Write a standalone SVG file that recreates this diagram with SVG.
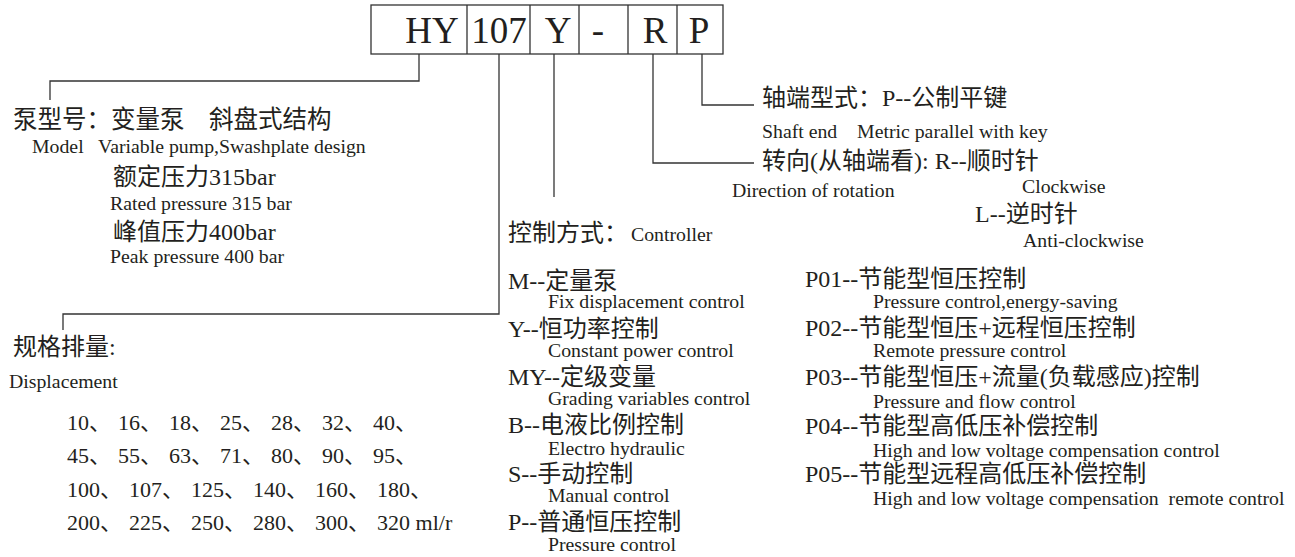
<svg xmlns="http://www.w3.org/2000/svg" width="1295" height="557" viewBox="0 0 1295 557">
<style>
text{font-family:"Liberation Serif","Noto Sans CJK SC",serif;fill:#231f20;white-space:pre}
.big{font-size:37px;text-anchor:middle}
.lb{font-size:24px}
.en{font-size:19.8px}
.num{font-size:22px}
.d{letter-spacing:7px}
.box{fill:#fff;stroke:#333;stroke-width:1.3}
.ln{fill:none;stroke:#333;stroke-width:1.3}
</style>
<rect width="1295" height="557" fill="#fff"/>
<g id="code">
<rect class="box" x="371" y="5" width="352" height="49"/>
<path class="ln" d="M467,5V54M530,5V54M579,5V54M628,5V54M677,5V54"/>
<text class="big" x="432" y="43">HY</text>
<text class="big" x="499" y="43">107</text>
<text class="big" x="558" y="43">Y</text>
<text class="big" x="598" y="43">-</text>
<text class="big" x="655" y="43">R</text>
<text class="big" x="699" y="43">P</text>
</g>
<g id="connectors">
<path class="ln" d="M419,54V81H50V100"/>
<path class="ln" d="M499,54V314H63V330"/>
<path class="ln" d="M554,54V197"/>
<path class="ln" d="M653,54V163H754"/>
<path class="ln" d="M702,54V105H754"/>
</g>
<g id="model">
<text class="lb" x="13" y="128" style="font-size:24.5px">泵型号：变量泵　斜盘式结构</text>
<text class="en" x="32" y="153">Model   Variable pump,Swashplate design</text>
<text class="lb" x="113" y="185">额定压力315bar</text>
<text class="en" x="110" y="210">Rated pressure 315 bar</text>
<text class="lb" x="113" y="240">峰值压力400bar</text>
<text class="en" x="110" y="263">Peak pressure 400 bar</text>
</g>
<g id="displacement">
<text class="lb" x="13" y="355">规格排量:</text>
<text class="en" x="9" y="388">Displacement</text>
<text class="num" x="67" y="430">10<tspan class="d">、</tspan>16<tspan class="d">、</tspan>18<tspan class="d">、</tspan>25<tspan class="d">、</tspan>28<tspan class="d">、</tspan>32<tspan class="d">、</tspan>40、</text>
<text class="num" x="67" y="463">45<tspan class="d">、</tspan>55<tspan class="d">、</tspan>63<tspan class="d">、</tspan>71<tspan class="d">、</tspan>80<tspan class="d">、</tspan>90<tspan class="d">、</tspan>95、</text>
<text class="num" x="67" y="497">100<tspan class="d">、</tspan>107<tspan class="d">、</tspan>125<tspan class="d">、</tspan>140<tspan class="d">、</tspan>160<tspan class="d">、</tspan>180、</text>
<text class="num" x="67" y="530">200<tspan class="d">、</tspan>225<tspan class="d">、</tspan>250<tspan class="d">、</tspan>280<tspan class="d">、</tspan>300<tspan class="d">、</tspan>320 ml/r</text>
</g>
<g id="shaft">
<text class="lb" x="762" y="106">轴端型式：P--公制平键</text>
<text class="en" x="762" y="138">Shaft end    Metric parallel with key</text>
</g>
<g id="rotation">
<text class="lb" x="762" y="169">转向(从轴端看): R--顺时针</text>
<text class="en" x="732" y="197">Direction of rotation</text>
<text class="en" x="1022" y="193">Clockwise</text>
<text class="lb" x="975" y="222">L--逆时针</text>
<text class="en" x="1023" y="247">Anti-clockwise</text>
</g>
<g id="controller">
<text class="lb" x="508" y="241">控制方式：<tspan class="en" dx="3">Controller</tspan></text>
<text class="lb" x="508" y="289">M--定量泵</text>
<text class="en" x="548" y="308">Fix displacement control</text>
<text class="lb" x="508" y="337">Y--恒功率控制</text>
<text class="en" x="548" y="357">Constant power control</text>
<text class="lb" x="508" y="385">MY--定级变量</text>
<text class="en" x="548" y="405">Grading variables control</text>
<text class="lb" x="508" y="433">B--电液比例控制</text>
<text class="en" x="548" y="455">Electro hydraulic</text>
<text class="lb" x="508" y="482">S--手动控制</text>
<text class="en" x="548" y="502">Manual control</text>
<text class="lb" x="508" y="530">P--普通恒压控制</text>
<text class="en" x="548" y="551">Pressure control</text>
</g>
<g id="pressure">
<text class="lb" x="805" y="287">P01--节能型恒压控制</text>
<text class="en" x="873" y="308">Pressure control,energy-saving</text>
<text class="lb" x="805" y="336">P02--节能型恒压+远程恒压控制</text>
<text class="en" x="873" y="357">Remote pressure control</text>
<text class="lb" x="805" y="385">P03--节能型恒压+流量(负载感应)控制</text>
<text class="en" x="873" y="408">Pressure and flow control</text>
<text class="lb" x="805" y="434">P04--节能型高低压补偿控制</text>
<text class="en" x="873" y="457">High and low voltage compensation control</text>
<text class="lb" x="805" y="482">P05--节能型远程高低压补偿控制</text>
<text class="en" x="873" y="505">High and low voltage compensation  remote control</text>
</g>
</svg>
